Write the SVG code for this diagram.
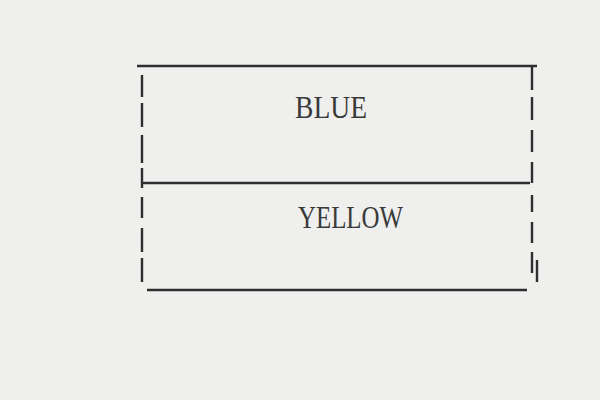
<svg xmlns="http://www.w3.org/2000/svg" width="600" height="400" viewBox="0 0 600 400">
<style>
.ln{stroke:#2e2e2e;stroke-width:2.4;fill:none;stroke-linecap:butt}
.tx{font-family:"Liberation Serif","Times New Roman",serif;font-size:31px;fill:#3a3a3a}
</style>
<rect width="600" height="400" fill="#efefee"/>
<g id="frame">
<path class="ln" d="M137 66H537"/>
<path class="ln" d="M142 183H530"/>
<path class="ln" d="M147 290H527"/>
<path class="ln" d="M142 75V97M142 103V127M142 135V163M142 168V188M142 197V218M142 228V252M142 258V282"/>
<path class="ln" d="M532 67V90M532 97V120M532 130V152M532 162V183M532 195V212M532 222V243M532 252V273M537 260V282"/>
</g>
<g id="blue"><text class="tx" x="295" y="118" textLength="72" lengthAdjust="spacingAndGlyphs">BLUE</text></g>
<g id="yellow"><text class="tx" x="298" y="228" textLength="105" lengthAdjust="spacingAndGlyphs">YELLOW</text></g>
</svg>
